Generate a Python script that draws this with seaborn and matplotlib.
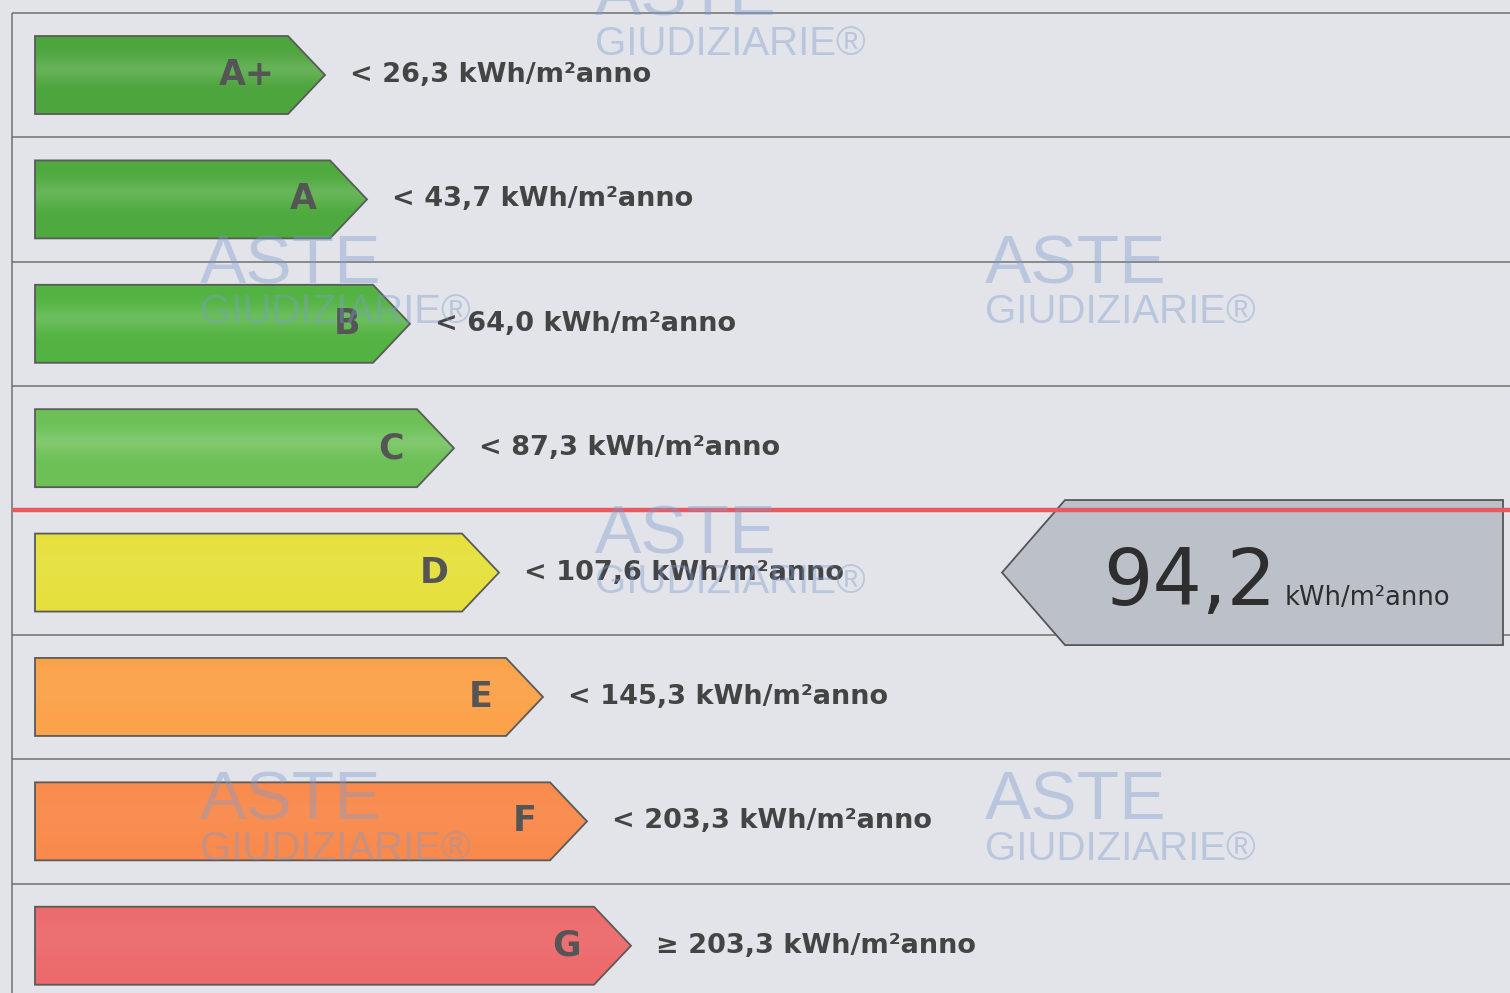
import matplotlib
matplotlib.use("Agg")
import matplotlib.pyplot as plt
from matplotlib.patches import Polygon
from matplotlib.colors import to_rgb
import numpy as np
import seaborn as sns

classes = ["A+", "A", "B", "C", "D", "E", "F", "G"]
bar_length = [253, 295, 338, 382, 427, 471, 515, 559]
limits = [26.3, 43.7, 64.0, 87.3, 107.6, 145.3, 203.3, 203.3]
colors = ["#4da53d", "#4eaa3e", "#53b342", "#6cc056", "#e6e03e", "#fba24a", "#f98a4c", "#ec6a6c"]
value = 94.2

sns.set_theme(style="white")
plt.rcParams["font.family"] = ["DejaVu Sans"]

fig = plt.figure(figsize=(15.1, 9.93), dpi=100)
fig.patch.set_facecolor("#e2e4e9")
ax = fig.add_axes([0, 0, 1, 1])

sns.barplot(x=bar_length, y=classes, hue=classes, palette=colors, legend=False,
            orient="h", width=0.627, linewidth=0, saturation=1, ax=ax)

tip = 37
t = np.linspace(0, 1, 60)
for p in ax.patches:
    x0, y0 = p.get_x(), p.get_y()
    x1, y1 = x0 + p.get_width(), y0 + p.get_height()
    yc = (y0 + y1) / 2
    i = int(round(yc))
    base = np.array(to_rgb(p.get_facecolor()))
    pts = [(x0, y0), (x1, y0), (x1 + tip, yc), (x1, y1), (x0, y1)]
    clip = Polygon(pts, closed=True, facecolor="none", edgecolor="none")
    ax.add_patch(clip)
    # light horizontal sheen on the green classes
    amount = 0.14 * np.exp(-((t - 0.42) / 0.16) ** 2) if i < 4 else 0.04 * np.exp(-((t - 0.4) / 0.3) ** 2)
    grad = base[None, :] + amount[:, None] * (1 - base[None, :])
    im = ax.imshow(grad[:, None, :], extent=(x0, x1 + tip, y1, y0), aspect="auto",
                   interpolation="bilinear", zorder=3)
    im.set_clip_path(clip)
    ax.add_patch(Polygon(pts, closed=True, facecolor="none", edgecolor="#5a5a5a",
                         linewidth=1.3, zorder=4))
    p.set_visible(False)
    ax.text(x1 + tip - 50, yc, classes[i], ha="right", va="center",
            fontsize=25, fontweight="bold", color="#555555", zorder=5)
    sign = "≥" if i == len(classes) - 1 else "<"
    label = f"{sign} {limits[i]:.1f}".replace(".", ",") + " kWh/m²anno"
    ax.text(x1 + tip + 25, yc, label, ha="left", va="center",
            fontsize=19.5, fontweight="bold", color="#444444", zorder=5)

ax.set_xlim(-35, 1475)
ax.set_ylim(7.38, -0.603)
ax.axis("off")

# row separators and left border
for k in range(-1, len(classes) - 1):
    ax.hlines(k + 0.5, -23, 1475, color="#707070", linewidth=1.1, zorder=1)
ax.vlines(-23, -0.5, 7.38, color="#707070", linewidth=1.1, zorder=1)

# current value indicator
cls = next(i for i, lim in enumerate(limits) if value < lim)
half = 0.583
box = Polygon([(967, cls), (1030, cls - half), (1468, cls - half),
               (1468, cls + half), (1030, cls + half)],
              closed=True, facecolor="#bcc0c9", edgecolor="#555555", linewidth=1.3, zorder=3)
ax.add_patch(box)
ax.hlines(cls - 0.5, -23, 1475, color="#e85a62", linewidth=3.2, zorder=6)
ax.text(1241, cls + 0.257, f"{value:.1f}".replace(".", ","), ha="right", va="baseline",
        fontsize=56, color="#2e2e2e", zorder=5)
ax.text(1250, cls + 0.257, "kWh/m²anno", ha="left", va="baseline",
        fontsize=18.5, color="#2e2e2e", zorder=5)

# watermarks
wm = dict(color="#7d9bcf", alpha=0.4, family=["Liberation Sans", "DejaVu Sans"], zorder=7)
for (x, y) in [(200, 283), (985, 283), (595, 553), (200, 820), (985, 820), (595, 15)]:
    fig.text(x / 1510, 1 - y / 993, "ASTE", fontsize=50, **wm)
    fig.text(x / 1510, 1 - (y + 40) / 993, "GIUDIZIARIE®", fontsize=29, **wm)

fig.savefig("out.png", dpi=100, facecolor=fig.get_facecolor())
